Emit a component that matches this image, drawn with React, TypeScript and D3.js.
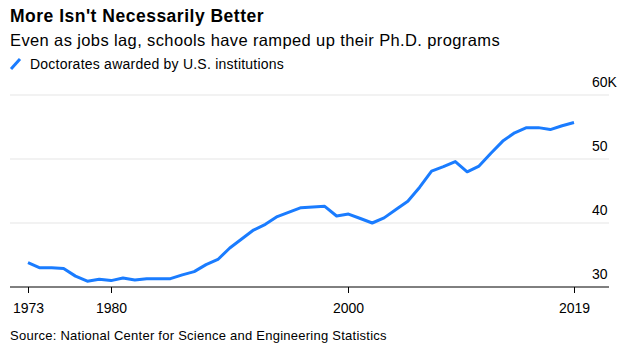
import React, { useEffect, useRef } from 'react';
import * as d3 from 'd3';

// Doctorates awarded by U.S. institutions, thousands
const years = d3.range(1973, 2020);
const doctorates = [
    33.8, 33.0, 33.0, 32.9, 31.7, 30.9, 31.2, 31.0, 31.4, 31.1,
    31.3, 31.3, 31.3, 31.9, 32.4, 33.5, 34.3, 36.1, 37.5, 38.9,
    39.8, 41.0, 41.7, 42.4, 42.5, 42.6, 41.1, 41.4, 40.7, 40.0,
    40.8, 42.1, 43.4, 45.6, 48.1, 48.8, 49.6, 48.0, 48.9, 50.9,
    52.8, 54.1, 54.9, 54.9, 54.6, 55.2, 55.7,
];
const yTicks = [30, 40, 50, 60];
const xTicks = [1973, 1980, 2000, 2019];

const title = "More Isn't Necessarily Better";
const subtitle = 'Even as jobs lag, schools have ramped up their Ph.D. programs';
const legendLabel = 'Doctorates awarded by U.S. institutions';
const source = 'Source: National Center for Science and Engineering Statistics';

const BLUE = '#1a7cff';
const FONT = '"Liberation Sans", Arial, sans-serif';

const width = 643;
const height = 361;

export default function App() {
    const svgRef = useRef<SVGSVGElement>(null);

    useEffect(() => {
        if (!svgRef.current) return;
        const svg = d3.select(svgRef.current);
        svg.selectAll('*').remove();

        const plotLeft = 10;
        const plotRight = 609;

        const x = d3.scaleLinear().domain([1973, 2019]).range([28, 574]);
        const y = d3.scaleLinear().domain([30, 60]).range([287, 95]);

        svg.append('text')
            .attr('x', 10).attr('y', 22)
            .attr('font-family', FONT).attr('font-weight', 'bold')
            .attr('font-size', 17.5).attr('letter-spacing', 0.5).attr('fill', '#000')
            .text(title);

        svg.append('text')
            .attr('x', 10).attr('y', 46)
            .attr('font-family', FONT).attr('font-size', 16.5)
            .attr('letter-spacing', 0.38).attr('fill', '#000')
            .text(subtitle);

        // legend
        svg.append('line')
            .attr('x1', 11).attr('y1', 69).attr('x2', 20).attr('y2', 59)
            .attr('stroke', BLUE).attr('stroke-width', 3);
        svg.append('text')
            .attr('x', 30).attr('y', 69)
            .attr('font-family', FONT).attr('font-size', 14)
            .attr('letter-spacing', 0.23).attr('fill', '#000')
            .text(legendLabel);

        // gridlines
        svg.append('g')
            .selectAll('line')
            .data(yTicks.filter(d => d > 30))
            .join('line')
            .attr('x1', plotLeft).attr('x2', plotRight)
            .attr('y1', d => y(d)).attr('y2', d => y(d))
            .attr('stroke', '#eeeeee').attr('stroke-width', 1.5);

        // y labels
        svg.append('g')
            .selectAll('text')
            .data(yTicks)
            .join('text')
            .attr('x', 592).attr('y', d => y(d) - 8)
            .attr('font-family', FONT).attr('font-size', 14).attr('fill', '#000')
            .text(d => (d === 60 ? '60K' : String(d)));

        // line
        const line = d3.line<number>()
            .x((_, i) => x(years[i]))
            .y(d => y(d));
        svg.append('path')
            .datum(doctorates)
            .attr('fill', 'none')
            .attr('stroke', BLUE)
            .attr('stroke-width', 3)
            .attr('stroke-linejoin', 'round')
            .attr('d', line);

        // x axis
        svg.append('line')
            .attr('x1', plotLeft).attr('x2', plotRight)
            .attr('y1', y(30)).attr('y2', y(30))
            .attr('stroke', '#000').attr('stroke-width', 1);
        const xt = svg.append('g').selectAll('g').data(xTicks).join('g')
            .attr('transform', d => `translate(${Math.round(x(d)) + 0.5},0)`);
        xt.append('line')
            .attr('y1', y(30)).attr('y2', y(30) + 6)
            .attr('stroke', '#000');
        xt.append('text')
            .attr('y', 313)
            .attr('text-anchor', 'middle')
            .attr('font-family', FONT).attr('font-size', 14).attr('fill', '#000')
            .text(d => String(d));

        svg.append('text')
            .attr('x', 10).attr('y', 340)
            .attr('font-family', FONT).attr('font-size', 13)
            .attr('letter-spacing', 0.25).attr('fill', '#000')
            .text(source);
    }, []);

    return (
        <svg
            ref={svgRef}
            width={width}
            height={height}
            style={{ position: 'absolute', left: 0, top: 0, background: '#fff' }}
        />
    );
}
